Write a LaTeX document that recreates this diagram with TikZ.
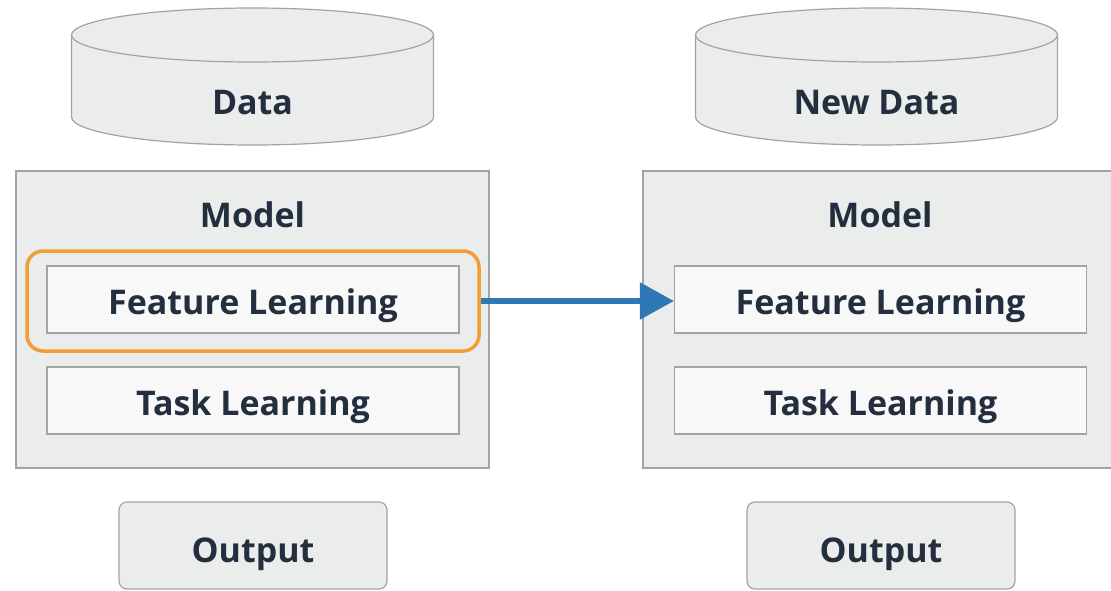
\documentclass[tikz,border=0pt]{standalone}
\usepackage{fontspec}
\setmainfont{Open Sans}
\usetikzlibrary{arrows.meta}
\definecolor{boxfill}{HTML}{EBECEC}
\definecolor{boxline}{HTML}{A3A3A3}
\definecolor{innerfill}{HTML}{F8F8F8}
\definecolor{txt}{HTML}{232F3E}
\definecolor{orng}{HTML}{F29E37}
\definecolor{arrowblue}{HTML}{2E78B6}
\tikzset{
  lbl/.style={text=txt, font=\fontsize{34}{38}\selectfont\bfseries, text height=24.3pt, text depth=0pt},
  modelbox/.style={draw=boxline, fill=boxfill, line width=1.2pt, minimum width=473pt, minimum height=297pt},
  innerbox/.style={draw=boxline, fill=innerfill, line width=1.2pt, minimum width=412pt, minimum height=67pt, lbl, text height=29.3pt},
  outbox/.style={draw=boxline, fill=boxfill, line width=1.2pt, rounded corners=8pt, minimum width=268pt, minimum height=87pt, lbl, text height=33.3pt},
  hilite/.style={draw=orng, line width=3.5pt, rounded corners=16pt, minimum width=452pt, minimum height=100pt},
  cyl/.style={draw=boxline, fill=boxfill, line width=1.2pt},
}
\begin{document}
\begin{tikzpicture}[x=1pt,y=-1pt]
\useasboundingbox (0,0) rectangle (1111,590);
% cylinders
\foreach \cx in {252.5, 876.5} {
  \path[cyl] (\cx-181,35) -- (\cx-181,117) arc[start angle=180, end angle=360, x radius=181, y radius=-28] -- (\cx+181,35) -- cycle;
  \path[cyl] (\cx,35) ellipse[x radius=181, y radius=27];
}
\node[lbl] (data) at (252.5,102.5) {Data};
\node[lbl] (newdata) at (876.5,102.5) {New Data};
% model boxes
\node[modelbox] (model1) at (252.5,319.5) {};
\node[modelbox] (model2) at (879.5,319.5) {};
\node[lbl] (mtitle1) at (252.5,215) {Model};
\node[lbl] (mtitle2) at (880,215) {Model};
\node[innerbox] (feat1) at (253,299.5) {Feature Learning};
\node[innerbox] (task1) at (253,400.5) {Task Learning};
\node[innerbox] (feat2) at (880.5,299.5) {Feature Learning};
\node[innerbox] (task2) at (880.5,400.5) {Task Learning};
\node[hilite] (hl) at (253,301) {};
% outputs
\node[outbox] (out1) at (253,545.5) {Output};
\node[outbox] (out2) at (881,545.5) {Output};
% arrow
\draw[arrowblue, line width=5.5pt, -{Triangle[length=34pt,width=36pt]}] (hl.east) -- (hl.east -| feat2.west);
\end{tikzpicture}
\end{document}
